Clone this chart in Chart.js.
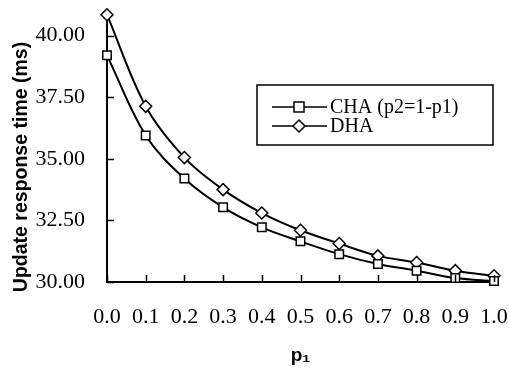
<!DOCTYPE html>
<html>
<head>
<meta charset="utf-8">
<script src="https://cdn.jsdelivr.net/npm/chart.js@4/dist/chart.umd.min.js"></script>
<style>
html,body{margin:0;padding:0;background:#fff;}
#wrap{position:relative;width:509px;height:371px;}
</style>
</head>
<body>
<div id="wrap"><canvas id="c" width="509" height="371"></canvas></div>
<script>
const categories = [0.0, 0.1, 0.2, 0.3, 0.4, 0.5, 0.6, 0.7, 0.8, 0.9, 1.0];
const chaValues = [39.2, 35.95, 34.2, 33.03, 32.22, 31.65, 31.13, 30.73, 30.46, 30.16, 30.04];
const dhaValues = [40.85, 37.13, 35.05, 33.75, 32.8, 32.1, 31.56, 31.06, 30.79, 30.46, 30.25];
const yTicks = [30, 32.5, 35, 37.5, 40];
const xTicks = [0.0, 0.1, 0.2, 0.3, 0.4, 0.5, 0.6, 0.7, 0.8, 0.9, 1.0];
const seriesNames = ['CHA (p2=1-p1)', 'DHA'];
const yTitle = 'Update response time (ms)';
const xTitle = 'p\u2081';

const serif = "Liberation Serif";
const sans = "Liberation Sans";

const toPts = (vals) => categories.map((x, i) => ({x: x, y: vals[i]}));

const insideTicks = {
  id: 'insideTicks',
  afterDraw(chart) {
    const ctx = chart.ctx;
    const xs = chart.scales.x, ys = chart.scales.y;
    const a = chart.chartArea;
    ctx.save();
    ctx.strokeStyle = '#000';
    ctx.lineWidth = 1.5;
    ctx.beginPath();
    yTicks.forEach(v => {
      const py = Math.round(ys.getPixelForValue(v)) + 0.5;
      ctx.moveTo(a.left, py); ctx.lineTo(a.left + 7, py);
    });
    xTicks.forEach(v => {
      const px = Math.round(xs.getPixelForValue(v)) + 0.5;
      ctx.moveTo(px, a.bottom); ctx.lineTo(px, a.bottom - 7);
    });
    ctx.stroke();
    ctx.fillStyle = '#000';
    ctx.font = "bold 19.5px '" + sans + "'";
    ctx.textAlign = 'center';
    ctx.textBaseline = 'middle';
    ctx.translate(22, 167);
    ctx.rotate(-Math.PI / 2);
    ctx.fillText(yTitle, 0, 0);
    ctx.restore();
  }
};

const boxLegend = {
  id: 'boxLegend',
  afterDraw(chart) {
    const ctx = chart.ctx;
    const x0 = 257, y0 = 85, w = 236, h = 60;
    ctx.save();
    ctx.fillStyle = '#fff';
    ctx.fillRect(x0, y0, w, h);
    ctx.strokeStyle = '#000';
    ctx.lineWidth = 1.5;
    ctx.strokeRect(x0, y0, w, h);
    ctx.font = "20px '" + serif + "'";
    ctx.textBaseline = 'middle';
    ctx.textAlign = 'left';
    const rows = [107, 126];
    chart.data.datasets.forEach((ds, i) => {
      const yy = rows[i];
      ctx.strokeStyle = '#000';
      ctx.lineWidth = 1.5;
      ctx.beginPath();
      ctx.moveTo(272, yy); ctx.lineTo(327, yy);
      ctx.stroke();
      ctx.fillStyle = '#fff';
      ctx.beginPath();
      const cx = 299, r = 5;
      if (ds.pointStyle === 'rect') {
        ctx.rect(cx - r, yy - r, 2 * r, 2 * r);
      } else {
        ctx.moveTo(cx, yy - r - 1); ctx.lineTo(cx + r + 1, yy); ctx.lineTo(cx, yy + r + 1); ctx.lineTo(cx - r - 1, yy); ctx.closePath();
      }
      ctx.fill(); ctx.stroke();
      ctx.fillStyle = '#000';
      ctx.fillText(ds.label, 330, yy + 1);
    });
    ctx.restore();
  }
};

new Chart(document.getElementById('c'), {
  type: 'line',
  data: {
    datasets: [
      {label: seriesNames[0], data: toPts(chaValues), borderColor: '#000', borderWidth: 2,
       pointStyle: 'rect', pointRadius: 6, pointBorderWidth: 1.5, pointBackgroundColor: '#fff', pointBorderColor: '#000',
       tension: 0.35, fill: false, clip: false},
      {label: seriesNames[1], data: toPts(dhaValues), borderColor: '#000', borderWidth: 2,
       pointStyle: 'rectRot', pointRadius: 6, pointBorderWidth: 1.5, pointBackgroundColor: '#fff', pointBorderColor: '#000',
       tension: 0.35, fill: false, clip: false}
    ]
  },
  options: {
    responsive: false,
    animation: false,
    layout: {padding: {top: 11, right: 0, left: 0, bottom: 0}},
    plugins: {legend: {display: false}, tooltip: {enabled: false}},
    scales: {
      x: {
        type: 'linear', min: 0, max: 1,
        afterBuildTicks: (s) => { s.ticks = xTicks.map(v => ({value: v})); },
        afterFit: (s) => { s.height = 89; s.paddingLeft = 0; s.paddingRight = 15; },
        grid: {display: true, drawOnChartArea: false, drawTicks: false, color: '#000'},
        border: {display: true, color: '#000', width: 2},
        ticks: {color: '#000', font: {family: serif, size: 22}, padding: 22, maxRotation: 0, autoSkip: false,
                callback: (v) => Number(v).toFixed(1)},
        title: {display: true, text: xTitle, color: '#000', font: {family: sans, size: 19, weight: 'bold'}, padding: {top: 6}}
      },
      y: {
        type: 'linear', min: 30, max: 41,
        afterBuildTicks: (s) => { s.ticks = yTicks.map(v => ({value: v})); },
        afterFit: (s) => { s.width = 107; s.paddingTop = 0; s.paddingBottom = 0; },
        grid: {display: true, drawOnChartArea: false, drawTicks: false, color: '#000'},
        border: {display: true, color: '#000', width: 2},
        ticks: {color: '#000', font: {family: serif, size: 22}, padding: 22,
                callback: (v) => Number(v).toFixed(2)}
      }
    }
  },
  plugins: [insideTicks, boxLegend]
});
</script>
</body>
</html>
